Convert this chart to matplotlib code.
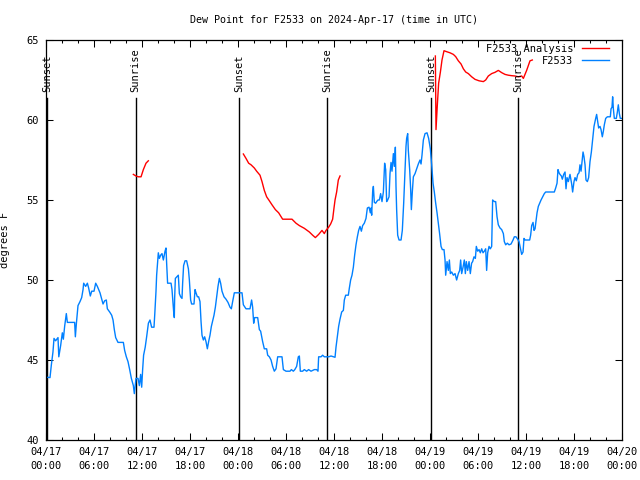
"""Dew point trace for station F2533 with the analysis overlay and sun times.

Writes out.png (640x480).
"""

import matplotlib

matplotlib.use("Agg")
import matplotlib.pyplot as plt
import numpy as np

plt.rcParams["font.family"] = ["DejaVu Sans Mono"]
plt.rcParams["font.size"] = 7.5

TITLE = "Dew Point for F2533 on 2024-Apr-17 (time in UTC)"
Y_LABEL = "degrees F"

# hours since 04/17 00:00 UTC
TICK_HOURS = [0, 6, 12, 18, 24, 30, 36, 42, 48, 54, 60, 66, 72]
TICK_LABELS = ["04/17\n00:00", "04/17\n06:00", "04/17\n12:00", "04/17\n18:00",
               "04/18\n00:00", "04/18\n06:00", "04/18\n12:00", "04/18\n18:00",
               "04/19\n00:00", "04/19\n06:00", "04/19\n12:00", "04/19\n18:00",
               "04/20\n00:00"]

SUN_HOURS = [0.1, 11.2, 24.15, 35.15, 48.15, 59.05]
SUN_LABELS = ["Sunset", "Sunrise", "Sunset", "Sunrise", "Sunset", "Sunrise"]

# station observations (F2533)
obs_hours = [
    0.1, 0.17, 0.5, 0.67, 0.87, 1.0, 1.2, 1.5, 1.6, 1.83, 2.04, 2.17, 2.33, 2.54, 2.67,
    3.58, 3.67, 3.8, 4.0, 4.25, 4.46, 4.63, 4.71, 4.96, 5.17, 5.33, 5.54, 5.71, 6.0,
    6.21, 6.42, 6.75, 7.13, 7.33, 7.54, 7.67, 7.96, 8.21, 8.38, 8.54, 8.71, 9.0, 9.67,
    9.83, 10.04, 10.25, 10.46, 10.67, 10.92, 11.04, 11.25, 11.5, 11.67, 11.83, 11.96,
    12.08, 12.2, 12.4, 12.58, 12.8, 13.0, 13.2, 13.5, 13.6, 13.75, 13.83, 13.96, 14.04,
    14.17, 14.33, 14.5, 14.67, 14.88, 15.0, 15.08, 15.2, 15.63, 15.75, 15.88, 15.96,
    16.04, 16.08, 16.17, 16.54, 16.67, 16.83, 17.0, 17.08, 17.2, 17.38, 17.58, 17.8,
    17.92, 18.08, 18.2, 18.5, 18.63, 18.75, 18.92, 19.08, 19.25, 19.38, 19.5, 19.67,
    19.83, 20.0, 20.17, 20.33, 20.5, 20.67, 20.83, 21.0, 21.17, 21.33, 21.5, 21.67,
    21.83, 22.0, 22.25, 22.5, 22.75, 23.0, 23.17, 23.33, 23.54, 24.5, 24.67, 25.0,
    25.5, 25.7, 25.83, 25.96, 26.08, 26.46, 26.67, 26.83, 27.08, 27.29, 27.58, 27.71,
    27.92, 28.13, 28.33, 28.54, 28.75, 28.96, 29.5, 29.67, 30.0, 30.5, 30.67, 30.92,
    31.1, 31.33, 31.54, 31.67, 31.79, 32.08, 32.29, 32.58, 32.83, 33.13, 33.54, 33.83,
    34.0, 34.08, 34.38, 34.58, 34.79, 35.08, 35.33, 35.63, 35.92, 36.13, 36.25, 36.42,
    36.58, 36.75, 36.96, 37.17, 37.29, 37.46, 37.79, 37.92, 38.08, 38.25, 38.42, 38.58,
    38.75, 38.92, 39.08, 39.25, 39.42, 39.58, 39.79, 40.0, 40.17, 40.38, 40.54, 40.63,
    40.71, 40.83, 40.92, 41.04, 41.21, 41.33, 41.5, 41.67, 41.83, 42.0, 42.17, 42.33,
    42.46, 42.58, 42.71, 42.88, 43.0, 43.13, 43.25, 43.42, 43.54, 43.67, 43.75, 43.83,
    43.96, 44.13, 44.38, 44.54, 44.71, 44.88, 45.0, 45.08, 45.21, 45.29, 45.46, 45.58,
    45.67, 45.79, 45.92, 46.13, 46.33, 46.54, 46.75, 46.88, 47.0, 47.17, 47.38, 47.63,
    47.83, 48.04, 48.21, 48.38, 48.54, 48.71, 48.88, 49.04, 49.2, 49.38, 49.54, 49.75,
    49.88, 49.96, 50.13, 50.29, 50.42, 50.54, 50.71, 50.92, 51.13, 51.33, 51.54, 51.71,
    51.83, 51.96, 52.13, 52.29, 52.42, 52.54, 52.71, 52.88, 53.04, 53.2, 53.33, 53.5,
    53.67, 53.79, 53.96, 54.13, 54.29, 54.46, 54.63, 54.79, 54.96, 55.08, 55.21, 55.38,
    55.54, 55.71, 55.83, 56.04, 56.21, 56.38, 56.54, 56.75, 56.96, 57.17, 57.29, 57.46,
    57.67, 57.88, 58.13, 58.38, 58.54, 58.75, 58.96, 59.13, 59.29, 59.46, 59.63, 59.75,
    59.88, 60.46, 60.58, 60.71, 60.88, 61.0, 61.13, 61.25, 61.38, 61.54, 61.71, 61.88,
    62.08, 62.29, 62.46, 63.54, 63.71, 63.88, 64.0, 64.13, 64.25, 64.42, 64.54, 64.71,
    64.88, 65.0, 65.13, 65.29, 65.5, 65.71, 65.83, 66.0, 66.13, 66.29, 66.46, 66.63,
    66.75, 66.88, 67.0, 67.13, 67.25, 67.38, 67.5, 67.67, 67.83, 68.0, 68.17, 68.33,
    68.5, 68.71, 68.83, 68.96, 69.08, 69.25, 69.38, 69.54, 69.67, 69.79, 69.96, 70.17,
    70.54, 70.63, 70.75, 70.83, 70.92, 71.04, 71.29, 71.42, 71.54, 71.67, 71.79, 72.0,
]
obs_dewpt = [
    43.9, 43.92, 43.9, 44.7, 45.5, 46.35, 46.2, 46.4, 45.2, 45.9, 46.7, 46.3, 47.1, 47.9, 47.35,
    47.35, 46.45, 47.3, 48.4, 48.65, 48.9, 49.4, 49.8, 49.6, 49.8, 49.5, 49.0, 49.3, 49.3,
    49.8, 49.6, 49.2, 48.5, 48.7, 48.75, 48.2, 48.0, 47.8, 47.5, 46.9, 46.4, 46.1, 46.1,
    45.6, 45.2, 44.9, 44.4, 43.85, 43.4, 42.9, 43.85, 43.85, 43.4, 44.1, 43.3,
    44.4, 45.3, 45.8, 46.45, 47.3, 47.5, 47.05, 47.05, 47.9, 49.3, 50.3, 51.2, 51.7,
    51.35, 51.55, 51.65, 51.25, 51.8, 52.0, 51.05, 49.8, 49.8, 49.4, 48.55, 48.0,
    47.65, 48.85, 50.1, 50.3, 49.15, 48.95, 48.85, 49.8, 50.9, 51.2, 51.2, 50.7,
    50.0, 48.75, 48.5, 48.5, 49.4, 49.2, 48.95, 48.95, 48.65, 47.4, 46.55, 46.25,
    46.45, 46.15, 45.7, 46.15, 46.55, 47.1, 47.45, 47.8, 48.3, 48.95, 49.6, 50.1,
    49.8, 49.3, 48.95, 48.8, 48.6, 48.3, 48.2, 48.65, 49.2, 49.2, 48.45, 48.2,
    48.2, 48.75, 48.3, 47.3, 47.65, 47.65, 46.9, 46.8, 46.15, 45.7, 45.7, 45.3,
    45.2, 45.0, 44.6, 44.3, 44.45, 45.2, 45.2, 44.4, 44.3, 44.3, 44.4, 44.3,
    44.4, 44.6, 45.2, 45.25, 44.3, 44.3, 44.4, 44.3, 44.4, 44.3, 44.4, 44.4,
    44.3, 45.2, 45.2, 45.3, 45.2, 45.2, 45.2, 45.25, 45.2, 45.17, 45.8, 46.45,
    47.1, 47.55, 48.0, 48.1, 48.75, 49.05, 49.05, 49.5, 50.0, 50.3, 50.8, 51.55,
    52.2, 52.7, 53.1, 53.35, 53.05, 53.4, 53.55, 53.85, 54.5, 54.55, 54.2, 54.5,
    54.05, 55.5, 55.85, 54.85, 54.8, 54.9, 55.0, 55.0, 55.4, 54.9, 55.5, 57.3,
    56.9, 54.9, 55.0, 55.2, 56.65, 57.35, 56.8, 57.9, 57.1, 58.3, 55.85, 54.4,
    52.8, 52.5, 52.5, 53.1, 54.8, 56.9, 58.35, 58.85, 59.15, 58.1, 56.9, 55.7,
    54.4, 55.5, 56.45, 56.65, 56.95, 57.25, 57.5, 57.25, 57.8, 58.75, 59.15, 59.2,
    58.85, 58.2, 57.2, 56.05, 55.5, 54.8, 54.2, 53.55, 52.9, 52.1, 51.9, 51.9,
    51.25, 50.3, 51.15, 50.6, 51.25, 50.4, 50.5, 50.3, 50.4, 50.0, 50.4, 50.6,
    51.25, 50.4, 50.8, 51.25, 50.4, 51.15, 50.6, 51.15, 50.4, 51.05, 51.15, 51.45,
    51.35, 52.1, 51.8, 51.9, 51.7, 51.95, 51.7, 51.8, 51.95, 50.6, 51.7, 52.1,
    51.95, 52.1, 55.0, 54.9, 54.9, 53.95, 53.45, 53.25, 53.15, 52.9, 52.4, 52.2,
    52.3, 52.2, 52.25, 52.5, 52.7, 52.7, 52.55, 52.4, 52.0, 51.6, 51.75, 52.6,
    52.5, 52.5, 52.8, 53.4, 53.6, 53.1, 53.2, 53.7, 54.2, 54.6, 54.8, 55.0,
    55.2, 55.4, 55.5, 55.5, 55.75, 56.05, 56.9, 56.7, 56.6, 56.5, 56.3, 56.6,
    56.75, 55.7, 56.4, 56.15, 56.6, 56.0, 55.5, 56.15, 56.4, 56.2, 56.6, 56.7,
    57.2, 56.8, 57.4, 58.0, 57.7, 57.2, 56.25, 56.15, 56.4, 57.4, 58.0, 58.75,
    59.6, 60.1, 60.35, 59.9, 59.5, 59.6, 59.4, 58.95, 59.3, 59.7, 60.1, 60.2,
    60.2, 60.7, 60.8, 61.45, 60.7, 60.1, 60.1, 60.5, 60.95, 60.4, 60.1, 60.1,
]

# analysis runs, NaN marks the gaps between runs
ana_hours = [
    10.92, 11.25, 11.54, 11.88, 12.17, 12.5, 12.79, np.nan,
    24.67, 25.0, 25.33, 25.63, 26.04, 26.33, 26.75, 27.0, 27.29, 27.58, 27.92, 28.25,
    28.67, 29.08, 29.58, 30.75, 31.25, 31.67, 32.29, 32.92, 33.33, 33.67, 34.08, 34.5,
    34.79, 35.0, 35.33, 35.58, 35.83, 36.0, 36.13, 36.33, 36.54, 36.75, np.nan,
    48.67, 48.75, 48.9, 49.08, 49.3, 49.5, 49.75, 50.08, 50.5, 50.92, 51.21, 51.54,
    51.88, 52.17, 52.46, 52.79, 53.21, 53.63, 54.13, 54.67, 54.96, 55.29, 55.71, 56.13,
    56.54, 56.96, 57.38, 57.79, 58.21, 58.63, 59.04, 59.46, 59.67, 60.08, 60.5, 60.79,
]
ana_dewpt = [
    56.6, 56.5, 56.45, 56.45, 56.9, 57.3, 57.45, np.nan,
    57.875, 57.6, 57.3, 57.2, 57.0, 56.8, 56.55, 56.15, 55.6, 55.2, 54.95, 54.7,
    54.4, 54.2, 53.8, 53.8, 53.55, 53.4, 53.23, 53.0, 52.8, 52.65, 52.85, 53.1,
    52.9, 53.1, 53.3, 53.5, 53.8, 54.5, 55.0, 55.5, 56.25, 56.5, np.nan,
    64.0, 59.4, 60.8, 62.3, 63.0, 63.75, 64.33, 64.27, 64.2, 64.1, 63.96, 63.7,
    63.5, 63.2, 63.0, 62.9, 62.7, 62.54, 62.45, 62.4, 62.5, 62.75, 62.9, 62.98,
    63.1, 62.96, 62.85, 62.8, 62.77, 62.75, 62.7, 62.75, 62.6, 63.1, 63.7, 63.75,
]


def main():
    fig = plt.figure(figsize=(6.4, 4.8), dpi=100)
    ax = fig.add_axes([46 / 640, 40 / 480, 576 / 640, 400 / 480])

    # sunrise / sunset markers
    for h, lab in zip(SUN_HOURS, SUN_LABELS):
        ax.plot([h, h], [40, 61.4], color="black", lw=1.0, zorder=1)
        ax.text(h, 61.75, lab, rotation=90, ha="center", va="bottom", fontsize=7.5)

    ax.plot(ana_hours, ana_dewpt, color="#ff0000", lw=1.0, label="F2533 Analysis")
    ax.plot(obs_hours, obs_dewpt, color="#0080ff", lw=1.0, label="F2533")

    ax.set_xlim(0, 72)
    ax.set_ylim(40, 65)
    ax.set_xticks(TICK_HOURS)
    ax.set_xticklabels(TICK_LABELS, linespacing=1.55)
    ax.set_xticks(np.arange(0, 73, 2), minor=True)
    ax.set_yticks(np.arange(40, 66, 5))
    ax.tick_params(which="both", direction="in", top=True, right=True, width=0.75)
    ax.tick_params(which="major", length=5, pad=5)
    ax.tick_params(which="minor", length=2.5)
    for s in ax.spines.values():
        s.set_linewidth(0.9)

    ax.set_title(TITLE, fontsize=7.2, pad=12)
    ax.set_ylabel(Y_LABEL)
    ax.yaxis.set_label_coords(-36 / 576, 0.5)

    ax.legend(loc="upper right", bbox_to_anchor=(1 - 13 / 576, 1 - 4 / 400),
              frameon=False, markerfirst=False, borderpad=0, borderaxespad=0,
              handlelength=2.6, handletextpad=0.8, labelspacing=0.15, fontsize=7.5)

    fig.savefig("out.png", dpi=100)


if __name__ == "__main__":
    main()
